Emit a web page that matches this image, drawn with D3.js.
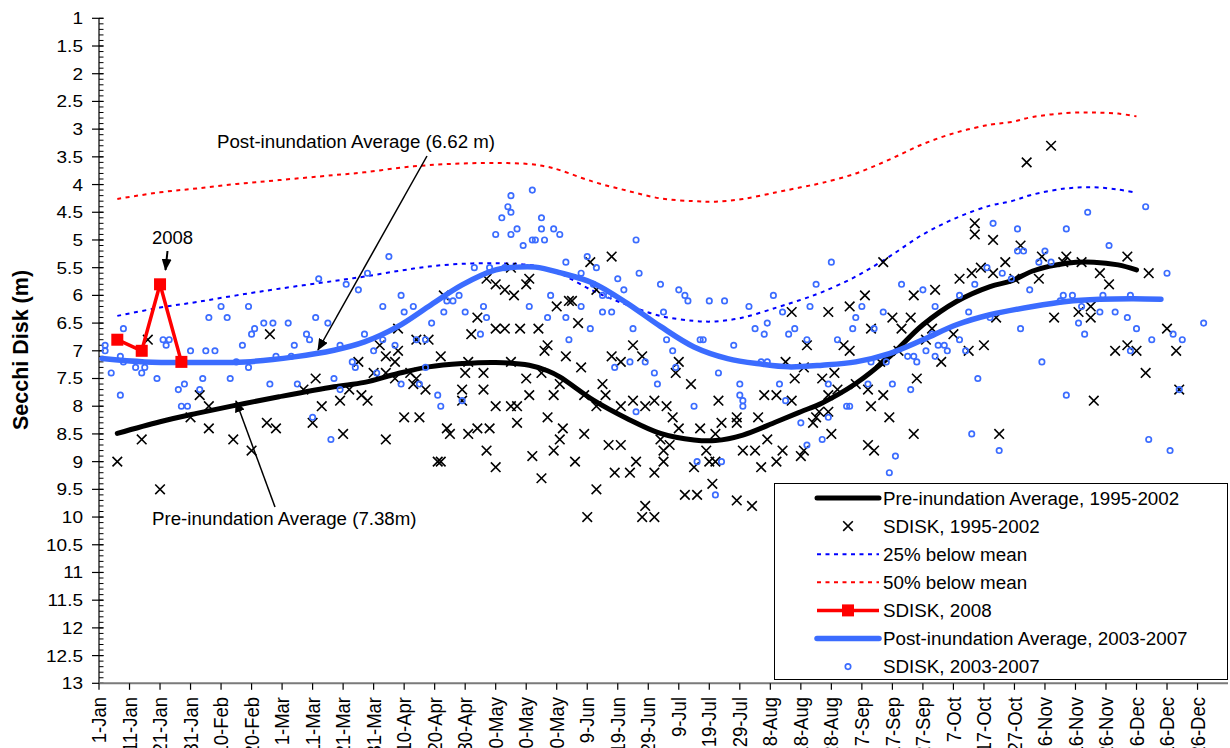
<!DOCTYPE html>
<html>
<head>
<meta charset="utf-8">
<script src="https://cdn.jsdelivr.net/npm/d3@7"></script>
<style>
  body { margin: 0; background: #fff; }
  svg { display: block; }
  text { font-family: "Liberation Sans", Arial, sans-serif; fill: #000; }
</style>
</head>
<body>
<svg id="chart" width="1230" height="748"></svg>
<script>
// x tick labels, one every 10 days from 1-Jan (leap year)
const tickLabels = ["1-Jan", "11-Jan", "21-Jan", "31-Jan", "10-Feb", "20-Feb", "1-Mar", "11-Mar",
  "21-Mar", "31-Mar", "10-Apr", "20-Apr", "30-Apr", "10-May", "20-May", "30-May", "9-Jun",
  "19-Jun", "29-Jun", "9-Jul", "19-Jul", "29-Jul", "8-Aug", "18-Aug", "28-Aug", "7-Sep",
  "17-Sep", "27-Sep", "7-Oct", "17-Oct", "27-Oct", "6-Nov", "16-Nov", "26-Nov", "6-Dec",
  "16-Dec", "26-Dec"];
const yTicks = [1, 1.5, 2, 2.5, 3, 3.5, 4, 4.5, 5, 5.5, 6, 6.5, 7, 7.5, 8, 8.5, 9, 9.5,
  10, 10.5, 11, 11.5, 12, 12.5, 13];

// pre-inundation average and the 25% / 50% lines (day of year, Secchi depth m)
const preDays = [6, 20, 32, 45, 59, 77, 87, 98, 108, 119, 130, 141, 147, 151, 162, 173, 184,
  195, 202, 211, 222, 230, 237, 248, 259, 270, 281, 292, 299, 306, 317, 326, 334, 340];
const preMean = [8.49, 8.28, 8.13, 7.98, 7.83, 7.65, 7.57, 7.41, 7.29, 7.23, 7.21, 7.26, 7.36,
  7.47, 7.89, 8.22, 8.49, 8.61, 8.62, 8.52, 8.28, 8.1, 7.94, 7.59, 7.11, 6.53, 6.11, 5.84,
  5.74, 5.56, 5.42, 5.4, 5.45, 5.54];
const below25 = [6.37, 6.22, 6.12, 6.0, 5.88, 5.74, 5.66, 5.56, 5.48, 5.43, 5.42, 5.45, 5.52,
  5.6, 5.92, 6.17, 6.37, 6.46, 6.47, 6.4, 6.22, 6.08, 5.94, 5.66, 5.3, 4.9, 4.6, 4.38, 4.3,
  4.18, 4.07, 4.05, 4.09, 4.15];
const below50 = [4.26, 4.14, 4.07, 3.99, 3.92, 3.83, 3.78, 3.7, 3.65, 3.62, 3.61, 3.63, 3.68,
  3.74, 3.95, 4.11, 4.25, 4.3, 4.31, 4.26, 4.14, 4.05, 3.97, 3.8, 3.55, 3.27, 3.06, 2.92,
  2.87, 2.78, 2.71, 2.7, 2.72, 2.77];

// post-inundation average
const postDays = [1, 15, 32, 48, 64, 77, 87, 98, 108, 119, 130, 137, 143, 151, 162, 173, 184,
  195, 206, 217, 226, 237, 248, 259, 270, 281, 292, 306, 317, 328, 339, 348];
const postMean = [7.14, 7.2, 7.21, 7.2, 7.11, 6.99, 6.84, 6.56, 6.2, 5.81, 5.54, 5.49, 5.49,
  5.59, 5.78, 6.14, 6.56, 6.93, 7.14, 7.24, 7.29, 7.26, 7.2, 7.05, 6.8, 6.53, 6.35, 6.2, 6.11,
  6.07, 6.06, 6.07];

// SDISK 2008
const days2008 = [6, 14, 20, 27];
const sdisk2008 = [6.8, 7.0, 5.8, 7.2];

// SDISK 1995-2002
const preSdiskDay = [16, 6, 14, 20, 30, 33, 36, 36, 44, 50, 55, 58, 56, 70, 73, 71, 67,
  113, 127, 130, 133, 136, 135, 141, 140, 150, 154, 124, 122, 130, 133, 138, 144, 147, 146, 153,
  98, 92, 98, 94, 97, 104, 108, 112, 85, 90, 94, 102, 104, 97, 121, 120, 126, 135, 140, 145,
  151, 82, 86, 88, 79, 103, 107, 119, 126, 119, 141, 149, 130, 135, 137, 100, 105, 147, 137,
  114, 124, 128, 152, 80, 94, 115, 121, 151, 127, 149, 111, 112, 130, 142, 145,
  168, 161, 163, 155, 157, 227, 175, 178, 168, 171, 158, 190, 189, 225, 194, 228, 203, 165,
  166, 159, 163, 171, 175, 179, 182, 186, 188, 218, 222, 227, 216, 209, 204, 209, 197, 190,
  159, 167, 171, 184, 187, 202, 219, 211, 215, 224, 185, 199, 156, 176, 185, 200, 202, 222,
  169, 174, 182, 195, 217, 201, 163, 192, 196, 209, 214, 179, 160, 178, 182,
  257, 287, 287, 293, 289, 286, 293, 297, 282, 274, 267, 251, 246, 239, 260, 266, 253, 263,
  294, 273, 280, 232, 244, 246, 271, 290, 285, 262, 256, 276, 231, 241, 237, 268, 248, 242,
  252, 239, 257, 253, 236, 239, 235, 259, 234, 240, 267, 295, 252, 254, 231, 230,
  312, 304, 302, 309, 317, 316, 322, 337, 300, 308, 328, 331, 344, 325, 321, 325, 313, 350,
  337, 333, 340, 353, 343, 354, 326];
const preSdiskVal = [6.8, 9.0, 8.6, 9.5, 8.2, 7.8, 8.0, 8.4, 8.6, 8.8, 8.3, 8.4, 6.7, 8.3, 8.0, 7.5, 7.7,
  6.0, 5.7, 5.8, 5.9, 6.0, 5.5, 5.7, 5.8, 6.2, 6.1, 6.4, 6.7, 6.6, 6.6, 6.6, 6.6, 6.9, 7.0, 7.1,
  6.6, 6.9, 7.0, 7.1, 7.2, 6.8, 6.8, 7.1, 7.2, 7.4, 7.4, 7.4, 7.5, 7.5, 7.2, 7.4, 7.4, 7.2, 7.5, 7.4,
  7.6, 7.7, 7.8, 7.9, 7.9, 7.6, 7.7, 7.7, 7.7, 7.9, 7.8, 7.8, 8.0, 8.0, 8.0, 8.2, 8.2, 8.2, 8.3,
  8.4, 8.4, 8.4, 8.4, 8.5, 8.6, 8.5, 8.5, 8.6, 8.8, 8.8, 9.0, 9.0, 9.1, 8.9, 9.3,
  5.3, 5.4, 5.9, 6.1, 6.5, 6.3, 6.9, 7.1, 7.1, 7.2, 7.3, 7.2, 7.4, 7.2, 7.6, 7.5, 7.9, 7.6,
  7.8, 7.8, 8.0, 8.0, 7.9, 8.0, 7.9, 8.0, 8.2, 7.8, 7.8, 7.9, 8.2, 8.2, 8.3, 8.3, 8.4, 8.4,
  8.5, 8.7, 8.7, 8.6, 8.7, 8.5, 8.6, 8.8, 8.8, 8.8, 8.8, 8.8, 9.0, 9.0, 9.0, 9.0, 9.0, 9.0,
  9.2, 9.2, 9.2, 9.1, 9.1, 9.4, 9.5, 9.6, 9.6, 9.7, 9.8, 9.8, 10.0, 10.0, 10.0,
  5.4, 4.7, 4.9, 5.0, 5.5, 5.6, 5.6, 5.4, 5.7, 5.9, 6.0, 6.0, 6.2, 6.3, 6.4, 6.4, 6.6, 6.6,
  6.4, 6.6, 6.7, 6.9, 6.9, 7.0, 6.8, 6.9, 7.0, 7.0, 7.2, 7.2, 7.3, 7.4, 7.5, 7.5, 7.6, 7.7,
  7.7, 7.8, 7.8, 8.0, 8.1, 8.1, 8.2, 8.2, 8.3, 8.5, 8.5, 8.5, 8.7, 8.8, 8.8, 8.9,
  3.3, 3.6, 5.1, 5.3, 5.3, 5.4, 5.4, 5.3, 5.7, 5.7, 5.6, 5.8, 5.6, 6.2, 6.3, 6.4, 6.4, 6.6,
  6.9, 7.0, 7.0, 7.0, 7.4, 7.7, 7.9];

// SDISK 2003-2007
const postSdiskDay = [2, 2, 8, 7, 8, 4, 7, 12, 14, 15, 19, 21, 22, 23, 26, 28, 27, 29, 30, 33,
  34, 35, 38, 36, 40, 42, 43, 45, 47, 49, 49, 50, 51, 54, 57, 56, 58, 62, 64, 63, 65, 68, 69,
  70, 71, 75, 76, 77, 72,
  135, 142, 134, 135, 132, 145, 130, 135, 137, 142, 143, 146, 149, 151, 145, 139, 153, 123,
  128, 133, 95, 88, 81, 85, 99, 93, 103, 100, 118, 114, 116, 113, 120, 126, 127, 109, 125,
  141, 148, 147, 153, 154, 87, 93, 97, 90, 104, 107, 79, 83, 84, 91, 79, 99, 105, 107, 111,
  112, 119,
  176, 160, 163, 158, 177, 170, 162, 184, 172, 190, 192, 193, 200, 205, 221, 165, 167, 158,
  165, 168, 185, 213, 224, 161, 175, 215, 219, 218, 228, 226, 186, 197, 198, 208, 188, 174,
  179, 169, 189, 217, 219, 182, 203, 183, 210, 223, 210, 211, 211, 225, 230, 195, 176, 196,
  204, 202,
  240, 235, 293, 263, 270, 291, 296, 287, 282, 233, 250, 274, 285, 257, 248, 292, 247, 254,
  232, 242, 273, 282, 271, 275, 277, 278, 284, 265, 267, 268, 274, 258, 253, 288, 239, 260,
  252, 266, 245, 246, 239, 237, 232, 261, 259, 286, 295,
  343, 324, 301, 317, 331, 301, 303, 310, 308, 312, 350, 299, 305, 316, 319, 315, 329, 338,
  322, 328, 333, 337, 362, 321, 302, 340, 323, 352, 345, 355, 338, 309, 354, 317, 344, 351];
const postSdiskVal = [6.9, 7.0, 6.6, 7.1, 7.2, 7.4, 7.8, 7.3, 7.4, 7.3, 7.5, 6.8, 6.9, 6.8, 7.7,
  7.6, 8.0, 8.0, 7.0, 7.7, 7.5, 7.0, 7.0, 6.4, 6.2, 6.4, 7.5, 7.2, 6.9, 6.2, 7.3, 6.7, 6.6, 6.5,
  6.5, 7.6, 7.1, 6.5, 6.9, 7.1, 7.6, 6.7, 6.8, 8.2, 6.4, 6.5, 8.6, 7.5, 5.7,
  4.2, 4.1, 4.4, 4.5, 4.6, 4.6, 4.9, 4.9, 4.8, 5.0, 5.0, 5.0, 4.8, 4.9, 4.8, 5.1, 5.4, 5.5,
  5.5, 5.5, 5.3, 5.6, 5.8, 5.9, 6.0, 6.2, 6.2, 6.3, 6.0, 6.1, 6.1, 6.3, 6.3, 6.2, 6.4, 6.5, 6.7,
  6.2, 6.0, 6.4, 6.4, 6.8, 6.7, 6.8, 6.9, 7.0, 6.8, 6.8, 6.9, 7.2, 7.3, 7.4, 7.7, 7.6, 7.6, 7.3,
  7.8, 8.0, 7.9,
  5.0, 5.3, 5.5, 5.6, 5.6, 5.7, 5.8, 5.8, 5.9, 5.9, 6.0, 6.1, 6.1, 6.1, 6.0, 6.0, 6.0, 6.2,
  6.3, 6.3, 6.3, 6.2, 6.3, 6.6, 6.6, 6.6, 6.5, 6.7, 6.6, 6.7, 6.8, 6.8, 6.8, 6.9, 7.0, 7.2,
  7.2, 7.3, 7.3, 7.2, 7.2, 7.4, 7.4, 7.6, 7.6, 7.6, 7.8, 7.9, 8.0, 7.9, 8.3, 8.0, 8.1, 9.0,
  9.0, 9.6,
  5.4, 5.8, 4.7, 5.8, 5.9, 5.5, 5.6, 5.8, 6.0, 6.2, 6.2, 6.2, 6.3, 6.3, 6.4, 6.4, 6.6, 6.6,
  6.8, 6.8, 6.7, 6.8, 7.0, 6.9, 6.9, 7.0, 7.0, 7.1, 7.1, 7.2, 7.1, 7.2, 7.2, 7.5, 7.6, 7.6,
  7.6, 7.7, 8.0, 8.0, 8.2, 8.6, 8.7, 8.9, 9.2, 8.5, 8.8,
  4.4, 4.5, 4.8, 4.8, 5.1, 5.2, 5.2, 5.2, 5.4, 5.4, 5.6, 5.7, 5.9, 6.0, 6.0, 6.1, 6.0, 6.0,
  6.2, 6.3, 6.3, 6.4, 6.5, 6.5, 6.6, 6.6, 6.7, 6.7, 6.8, 6.8, 7.0, 7.2, 7.7, 7.8, 8.6, 8.8];

const legendLabels = ["Pre-inundation Average, 1995-2002", "SDISK, 1995-2002", "25% below mean",
  "50% below mean", "SDISK, 2008", "Post-inundation Average, 2003-2007", "SDISK, 2003-2007"];

const BLUE = "#3b6cff";

const svg = d3.select("#chart");

const x = d3.scaleLinear().domain([0, 369]).range([99, 1225]);
const y = d3.scaleLinear().domain([1, 13]).range([18.3, 683.3]);

const defs = svg.append("defs");
defs.append("marker")
  .attr("id", "arrow")
  .attr("markerUnits", "userSpaceOnUse")
  .attr("markerWidth", 12)
  .attr("markerHeight", 10)
  .attr("refX", 11)
  .attr("refY", 5)
  .attr("orient", "auto")
  .append("path")
  .attr("d", "M0,0 L12,5 L0,10 z")
  .attr("fill", "#000");

// axes
const axis = svg.append("g");
axis.append("line")
  .attr("x1", 99).attr("x2", 99)
  .attr("y1", y(1)).attr("y2", y(13))
  .attr("stroke", "#000").attr("stroke-width", 1.2);

// minor ticks every 0.1 on the inside
axis.selectAll(".minor")
  .data(d3.range(10, 131).map((d) => d / 10))
  .join("line")
  .attr("x1", 99).attr("x2", 103.5)
  .attr("y1", (d) => y(d)).attr("y2", (d) => y(d))
  .attr("stroke", "#000").attr("stroke-width", 1);

axis.selectAll(".major")
  .data(yTicks)
  .join("line")
  .attr("x1", 92).attr("x2", 103.5)
  .attr("y1", (d) => y(d)).attr("y2", (d) => y(d))
  .attr("stroke", "#000").attr("stroke-width", 1.2);

axis.selectAll(".ylab")
  .data(yTicks)
  .join("text")
  .attr("transform", (d) => `translate(83,${y(d)}) scale(1.12,1)`)
  .attr("dy", "0.35em")
  .attr("text-anchor", "end")
  .style("font-size", "17px")
  .text((d) => d);

axis.append("line")
  .attr("x1", 99).attr("x2", 1228)
  .attr("y1", y(13)).attr("y2", y(13))
  .attr("stroke", "#7a7a7a").attr("stroke-width", 2);

axis.selectAll(".xtick")
  .data(tickLabels)
  .join("line")
  .attr("x1", (d, i) => x(i * 10)).attr("x2", (d, i) => x(i * 10))
  .attr("y1", y(13)).attr("y2", y(13) + 6.5)
  .attr("stroke", "#000").attr("stroke-width", 1.2);

axis.selectAll(".xlab")
  .data(tickLabels)
  .join("text")
  .attr("transform", (d, i) => `translate(${x(i * 10)},697) scale(1.1,1) rotate(-90)`)
  .attr("dy", "0.35em")
  .attr("text-anchor", "end")
  .style("font-size", "18.5px")
  .text((d) => d);

svg.append("text")
  .attr("transform", "translate(28,350) rotate(-90)")
  .attr("text-anchor", "middle")
  .style("font-size", "21.5px")
  .style("font-weight", "bold")
  .text("Secchi Disk (m)");

// series
const line = (days, vals, curve) =>
  d3.line().x((d) => x(d)).y((d, i) => y(vals[i])).curve(curve)(days);

svg.append("path")
  .attr("d", line(preDays, below25, d3.curveCatmullRom))
  .attr("fill", "none").attr("stroke", "#0000ff")
  .attr("stroke-width", 2).attr("stroke-dasharray", "4,4.5");

svg.append("path")
  .attr("d", line(preDays, below50, d3.curveCatmullRom))
  .attr("fill", "none").attr("stroke", "#ff0000")
  .attr("stroke-width", 2).attr("stroke-dasharray", "4,4.5");

const crossPath = (cx, cy, s) =>
  `M${cx - s},${cy - s}L${cx + s},${cy + s}M${cx - s},${cy + s}L${cx + s},${cy - s}`;

svg.append("g")
  .selectAll("path")
  .data(preSdiskDay)
  .join("path")
  .attr("d", (d, i) => crossPath(x(d), y(preSdiskVal[i]), 4.8))
  .attr("stroke", "#000").attr("stroke-width", 1.6).attr("fill", "none");

svg.append("path")
  .attr("d", line(preDays, preMean, d3.curveCatmullRom))
  .attr("fill", "none").attr("stroke", "#000")
  .attr("stroke-width", 5).attr("stroke-linecap", "round");

svg.append("path")
  .attr("d", line(postDays, postMean, d3.curveCatmullRom))
  .attr("fill", "none").attr("stroke", BLUE)
  .attr("stroke-width", 5.5).attr("stroke-linecap", "round");

svg.append("g")
  .selectAll("circle")
  .data(postSdiskDay)
  .join("circle")
  .attr("cx", (d) => x(d))
  .attr("cy", (d, i) => y(postSdiskVal[i]))
  .attr("r", 2.7)
  .attr("fill", "none")
  .attr("stroke", BLUE)
  .attr("stroke-width", 1.7);

svg.append("path")
  .attr("d", line(days2008, sdisk2008, d3.curveLinear))
  .attr("fill", "none").attr("stroke", "#ff0000")
  .attr("stroke-width", 3.5).attr("stroke-linejoin", "round");

svg.append("g")
  .selectAll("rect")
  .data(days2008)
  .join("rect")
  .attr("x", (d) => x(d) - 6)
  .attr("y", (d, i) => y(sdisk2008[i]) - 6)
  .attr("width", 12).attr("height", 12)
  .attr("fill", "#ff0000");

// annotations
svg.append("text")
  .attr("x", 217).attr("y", 148.3)
  .style("font-size", "18.7px")
  .text("Post-inundation Average (6.62 m)");
svg.append("line")
  .attr("x1", 427).attr("y1", 156).attr("x2", 318).attr("y2", 350)
  .attr("stroke", "#000").attr("stroke-width", 1.5)
  .attr("marker-end", "url(#arrow)");

svg.append("text")
  .attr("x", 152).attr("y", 525)
  .style("font-size", "18.7px")
  .text("Pre-inundation Average (7.38m)");
svg.append("line")
  .attr("x1", 275).attr("y1", 507).attr("x2", 236).attr("y2", 401)
  .attr("stroke", "#000").attr("stroke-width", 1.5)
  .attr("marker-end", "url(#arrow)");

svg.append("text")
  .attr("x", 152).attr("y", 244)
  .style("font-size", "18.5px")
  .text("2008");
svg.append("line")
  .attr("x1", 167.5).attr("y1", 251).attr("x2", 165.5).attr("y2", 270)
  .attr("stroke", "#000").attr("stroke-width", 2)
  .attr("marker-end", "url(#arrow)");

// legend
const legend = svg.append("g");
legend.append("rect")
  .attr("x", 774.5).attr("y", 483.5)
  .attr("width", 453).attr("height", 196)
  .attr("fill", "#fff").attr("stroke", "#000").attr("stroke-width", 1);

const rowY = (i) => 498 + i * 28.1;
const lx1 = 817, lx2 = 879, lmid = 848;

legend.append("line")
  .attr("x1", lx1).attr("x2", lx2).attr("y1", rowY(0)).attr("y2", rowY(0))
  .attr("stroke", "#000").attr("stroke-width", 5).attr("stroke-linecap", "round");
legend.append("path")
  .attr("d", crossPath(lmid, rowY(1), 4.8))
  .attr("stroke", "#000").attr("stroke-width", 1.6);
legend.append("line")
  .attr("x1", lx1).attr("x2", lx2).attr("y1", rowY(2)).attr("y2", rowY(2))
  .attr("stroke", "#0000ff").attr("stroke-width", 2).attr("stroke-dasharray", "4,4.5");
legend.append("line")
  .attr("x1", lx1).attr("x2", lx2).attr("y1", rowY(3)).attr("y2", rowY(3))
  .attr("stroke", "#ff0000").attr("stroke-width", 2).attr("stroke-dasharray", "4,4.5");
legend.append("line")
  .attr("x1", lx1).attr("x2", lx2).attr("y1", rowY(4)).attr("y2", rowY(4))
  .attr("stroke", "#ff0000").attr("stroke-width", 3.5);
legend.append("rect")
  .attr("x", lmid - 6).attr("y", rowY(4) - 6).attr("width", 12).attr("height", 12)
  .attr("fill", "#ff0000");
legend.append("line")
  .attr("x1", lx1).attr("x2", lx2).attr("y1", rowY(5)).attr("y2", rowY(5))
  .attr("stroke", BLUE).attr("stroke-width", 5.5).attr("stroke-linecap", "round");
legend.append("circle")
  .attr("cx", lmid).attr("cy", rowY(6)).attr("r", 2.7)
  .attr("fill", "none").attr("stroke", BLUE).attr("stroke-width", 1.7);

legend.selectAll(".ltext")
  .data(legendLabels)
  .join("text")
  .attr("x", 883)
  .attr("y", (d, i) => rowY(i))
  .attr("dy", "0.35em")
  .style("font-size", "18.8px")
  .text((d) => d);
</script>
</body>
</html>
